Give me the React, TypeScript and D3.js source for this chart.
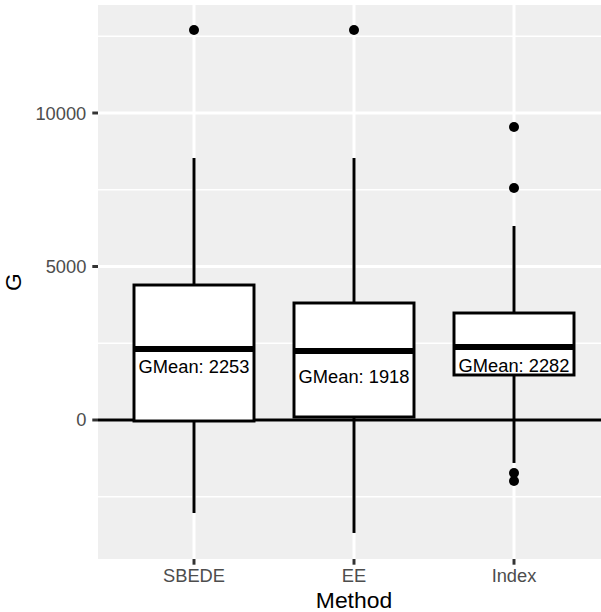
import React from 'react';
import {scaleLinear, scaleBand} from 'd3';

// data
const methods = ['SBEDE', 'EE', 'Index'];
const q1 = [-33, 98, 1466];
const median = [2313, 2248, 2378];
const q3 = [4397, 3811, 3485];
const whiskerLow = [-3029, -3680, -1400];
const whiskerHigh = [8534, 8534, 6319];
const outliers = [[12704], [12704], [9544, 7557, -1726, -1987]];
const gmeanLabels = ['GMean: 2253', 'GMean: 1918', 'GMean: 2282'];
const labelY = [1743, 1417, 1775];
const majorTicks = [0, 5000, 10000];
const minorTicks = [-2500, 2500, 7500, 12500];

const W = 601, H = 612;
const panel = {left: 98, top: 5, right: 610, bottom: 559};
const font = '"Liberation Sans", Arial, Helvetica, sans-serif';

const App = (): JSX.Element => {
    const y = scaleLinear().domain([-4528, 13518]).range([panel.bottom, panel.top]);
    // discrete axis: 0.6 unit expansion each side, boxes 0.75 wide
    const x = scaleBand().domain(methods).range([panel.left, panel.right]).paddingOuter(0.1).paddingInner(0);
    const bw = x.bandwidth();
    const cx = (m: string) => (x(m) as number) + bw / 2;
    const boxW = bw * 0.75;
    const lw = 2.96;

    return (
        <svg width={W} height={H} style={{position: 'absolute', left: 0, top: 0}} fontFamily={font}>
            <rect x={0} y={0} width={W} height={H} fill="white"/>
            <rect x={panel.left} y={panel.top} width={panel.right - panel.left} height={panel.bottom - panel.top} fill="#EFEFEF"/>
            {minorTicks.map(t => (
                <line key={'mi' + t} x1={panel.left} x2={panel.right} y1={y(t)} y2={y(t)} stroke="white" strokeWidth={1.48}/>
            ))}
            {majorTicks.map(t => (
                <line key={'ma' + t} x1={panel.left} x2={panel.right} y1={y(t)} y2={y(t)} stroke="white" strokeWidth={lw}/>
            ))}
            {methods.map(m => (
                <line key={'vg' + m} x1={cx(m)} x2={cx(m)} y1={panel.top} y2={panel.bottom} stroke="white" strokeWidth={lw}/>
            ))}
            <line x1={panel.left} x2={panel.right} y1={y(0)} y2={y(0)} stroke="black" strokeWidth={lw}/>
            {methods.map((m, i) => {
                const c = cx(m);
                return (
                    <g key={m}>
                        <line x1={c} x2={c} y1={y(q3[i])} y2={y(whiskerHigh[i])} stroke="#000" strokeWidth={lw}/>
                        <line x1={c} x2={c} y1={y(q1[i])} y2={y(whiskerLow[i])} stroke="#000" strokeWidth={lw}/>
                        <rect x={c - boxW / 2} y={y(q3[i])} width={boxW} height={y(q1[i]) - y(q3[i])}
                              fill="white" stroke="#000" strokeWidth={lw}/>
                        <line x1={c - boxW / 2} x2={c + boxW / 2} y1={y(median[i])} y2={y(median[i])} stroke="#000" strokeWidth={lw * 2}/>
                        {outliers[i].map((o, j) => (
                            <circle key={j} cx={c} cy={y(o)} r={5} fill="#000"/>
                        ))}
                        <text x={c} y={y(labelY[i])} dominantBaseline="central" textAnchor="middle" fontSize={18.3} fill="#000">
                            {gmeanLabels[i]}
                        </text>
                    </g>
                );
            })}
            {/* y axis */}
            {majorTicks.map(t => (
                <g key={'yt' + t}>
                    <line x1={panel.left - 5.7} x2={panel.left} y1={y(t)} y2={y(t)} stroke="#333333" strokeWidth={lw}/>
                    <text x={panel.left - 5.7 - 6} y={y(t)} dominantBaseline="central" textAnchor="end" fontSize={18.3} fill="#4D4D4D">
                        {t}
                    </text>
                </g>
            ))}
            {/* x axis */}
            {methods.map(m => (
                <g key={'xt' + m}>
                    <line x1={cx(m)} x2={cx(m)} y1={panel.bottom} y2={panel.bottom + 5.7} stroke="#333333" strokeWidth={lw}/>
                    <text x={cx(m)} y={582} textAnchor="middle" fontSize={18.3} fill="#4D4D4D">{m}</text>
                </g>
            ))}
            <text x={(panel.left + panel.right) / 2} y={608} textAnchor="middle" fontSize={22.9} fill="#000">Method</text>
            <text transform={`translate(21, ${(panel.top + panel.bottom) / 2}) rotate(-90)`} textAnchor="middle" fontSize={22.9} fill="#000">G</text>
        </svg>
    );
};

export default App;
